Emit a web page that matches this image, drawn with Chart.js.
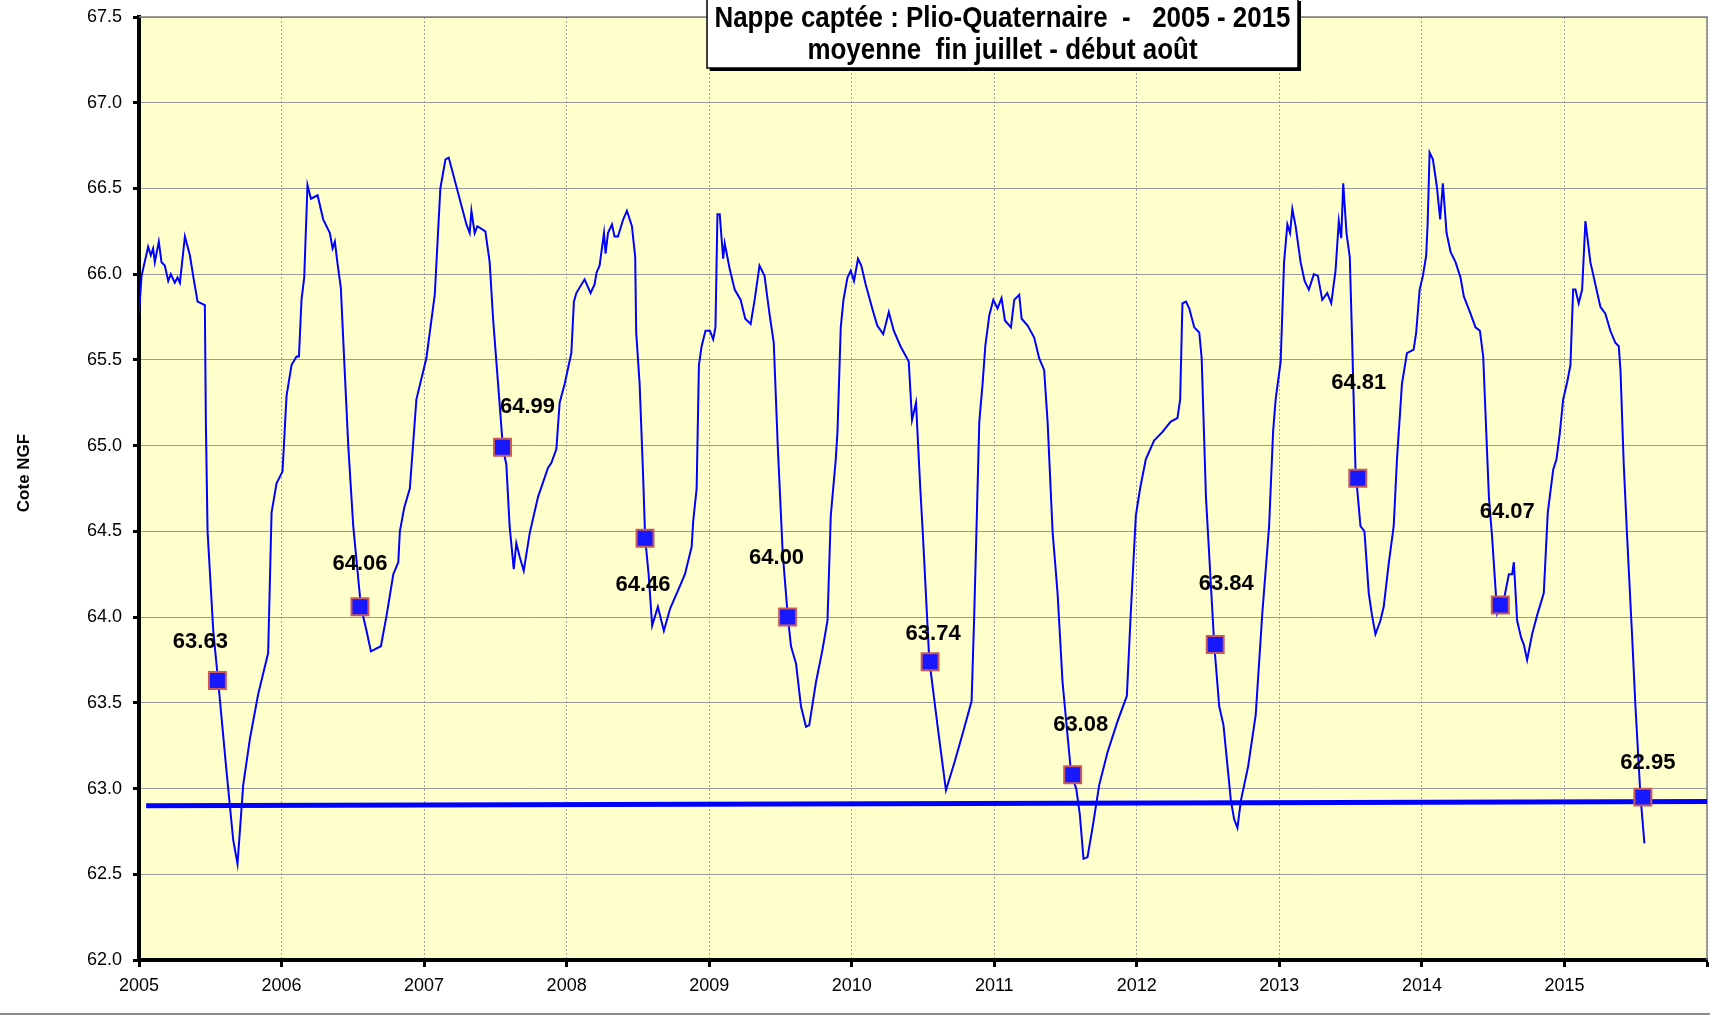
<!DOCTYPE html>
<html lang="fr">
<head>
<meta charset="utf-8">
<title>Nappe captée : Plio-Quaternaire 2005 - 2015</title>
<script src="https://cdn.jsdelivr.net/npm/chart.js@4.4.1/dist/chart.umd.min.js"></script>
<style>
    html, body { margin: 0; padding: 0; background: #ffffff; }
    #chart { display: block; }
</style>
</head>
<body>
<canvas id="chart" width="1710" height="1016"></canvas>
<script>
// niveau piézométrique (date en année décimale, cote NGF)
const levelDates = [
    2005.000, 2005.018, 2005.064, 2005.083, 2005.099, 2005.111, 2005.139, 2005.158, 2005.181, 2005.205,
    2005.223, 2005.251, 2005.270, 2005.287, 2005.322, 2005.357, 2005.380, 2005.411, 2005.462, 2005.469,
    2005.481, 2005.521, 2005.556, 2005.614, 2005.661, 2005.691, 2005.731, 2005.778, 2005.836, 2005.906,
    2005.930, 2005.965, 2006.007, 2006.035, 2006.070, 2006.105, 2006.122, 2006.140, 2006.159, 2006.182,
    2006.206, 2006.253, 2006.292, 2006.339, 2006.358, 2006.374, 2006.393, 2006.416, 2006.440, 2006.468,
    2006.503, 2006.557, 2006.596, 2006.627, 2006.697, 2006.737, 2006.784, 2006.819, 2006.830, 2006.861,
    2006.900, 2006.946, 2007.016, 2007.075, 2007.114, 2007.150, 2007.173, 2007.297, 2007.320, 2007.332,
    2007.355, 2007.374, 2007.430, 2007.460, 2007.484, 2007.519, 2007.554, 2007.577, 2007.600, 2007.629,
    2007.647, 2007.671, 2007.699, 2007.741, 2007.799, 2007.869, 2007.893, 2007.928, 2007.951, 2007.986,
    2008.033, 2008.051, 2008.068, 2008.126, 2008.168, 2008.196, 2008.210, 2008.231, 2008.262, 2008.273,
    2008.290, 2008.318, 2008.336, 2008.360, 2008.397, 2008.423, 2008.458, 2008.481, 2008.488, 2008.512,
    2008.535, 2008.551, 2008.575, 2008.600, 2008.640, 2008.682, 2008.726, 2008.784, 2008.830, 2008.877,
    2008.888, 2008.912, 2008.928, 2008.947, 2008.974, 2009.005, 2009.028, 2009.044, 2009.058, 2009.074,
    2009.098, 2009.109, 2009.144, 2009.179, 2009.221, 2009.253, 2009.291, 2009.319, 2009.353, 2009.388,
    2009.423, 2009.453, 2009.481, 2009.516, 2009.551, 2009.574, 2009.609, 2009.644, 2009.679, 2009.702,
    2009.749, 2009.795, 2009.830, 2009.853, 2009.888, 2009.900, 2009.923, 2009.942, 2009.970, 2009.993,
    2010.016, 2010.044, 2010.067, 2010.098, 2010.144, 2010.179, 2010.221, 2010.260, 2010.295, 2010.342,
    2010.400, 2010.423, 2010.451, 2010.481, 2010.498, 2010.544, 2010.603, 2010.661, 2010.720, 2010.778,
    2010.841, 2010.860, 2010.895, 2010.918, 2010.937, 2010.965, 2010.993, 2011.023, 2011.051, 2011.075,
    2011.117, 2011.140, 2011.175, 2011.192, 2011.234, 2011.280, 2011.315, 2011.350, 2011.374, 2011.409,
    2011.444, 2011.479, 2011.540, 2011.575, 2011.600, 2011.626, 2011.654, 2011.689, 2011.736, 2011.794,
    2011.864, 2011.930, 2011.958, 2011.993, 2012.023, 2012.063, 2012.121, 2012.180, 2012.238, 2012.285,
    2012.304, 2012.320, 2012.345, 2012.368, 2012.403, 2012.438, 2012.455, 2012.485, 2012.543, 2012.578,
    2012.608, 2012.660, 2012.683, 2012.706, 2012.730, 2012.781, 2012.834, 2012.881, 2012.928, 2012.956,
    2012.974, 2013.009, 2013.033, 2013.056, 2013.075, 2013.091, 2013.114, 2013.149, 2013.177, 2013.207,
    2013.242, 2013.270, 2013.301, 2013.336, 2013.364, 2013.394, 2013.417, 2013.434, 2013.448, 2013.471,
    2013.494, 2013.510, 2013.534, 2013.569, 2013.597, 2013.627, 2013.650, 2013.674, 2013.709, 2013.732,
    2013.767, 2013.802, 2013.825, 2013.860, 2013.895, 2013.942, 2013.960, 2013.984, 2014.007, 2014.030,
    2014.040, 2014.054, 2014.077, 2014.105, 2014.128, 2014.147, 2014.173, 2014.201, 2014.236, 2014.271,
    2014.294, 2014.341, 2014.376, 2014.407, 2014.430, 2014.446, 2014.470, 2014.493, 2014.528, 2014.575,
    2014.610, 2014.633, 2014.645, 2014.668, 2014.696, 2014.715, 2014.738, 2014.773, 2014.808, 2014.855,
    2014.883, 2014.921, 2014.944, 2014.967, 2014.991, 2015.019, 2015.042, 2015.061, 2015.077, 2015.100,
    2015.124, 2015.147, 2015.182, 2015.217, 2015.252, 2015.287, 2015.322, 2015.357, 2015.381, 2015.393,
    2015.416, 2015.439, 2015.474, 2015.498, 2015.533, 2015.561
];
const levelValues = [
    65.77, 65.99, 66.16, 66.11, 66.15, 66.07, 66.19, 66.07, 66.05, 65.96,
    66.00, 65.95, 65.98, 65.95, 66.22, 66.11, 65.99, 65.84, 65.82, 65.14,
    64.50, 63.92, 63.62, 63.10, 62.70, 62.56, 63.02, 63.29, 63.55, 63.79,
    64.61, 64.78, 64.85, 65.29, 65.47, 65.52, 65.52, 65.85, 65.98, 66.52,
    66.44, 66.46, 66.32, 66.24, 66.15, 66.19, 66.06, 65.92, 65.49, 65.00,
    64.53, 64.06, 63.92, 63.80, 63.83, 64.01, 64.25, 64.32, 64.50, 64.64,
    64.75, 65.27, 65.51, 65.88, 66.50, 66.67, 66.68, 66.29, 66.24, 66.37,
    66.24, 66.28, 66.25, 66.07, 65.74, 65.36, 64.98, 64.89, 64.53, 64.28,
    64.43, 64.35, 64.27, 64.49, 64.70, 64.87, 64.90, 64.98, 65.25, 65.36,
    65.54, 65.84, 65.89, 65.97, 65.89, 65.94, 66.01, 66.05, 66.24, 66.12,
    66.24, 66.29, 66.22, 66.22, 66.32, 66.37, 66.28, 66.10, 65.66, 65.36,
    64.86, 64.46, 64.25, 63.95, 64.06, 63.92, 64.05, 64.16, 64.25, 64.41,
    64.56, 64.75, 65.47, 65.58, 65.67, 65.67, 65.62, 65.69, 66.35, 66.35,
    66.09, 66.18, 66.03, 65.91, 65.85, 65.74, 65.71, 65.85, 66.05, 65.99,
    65.77, 65.60, 65.00, 64.37, 64.01, 63.83, 63.73, 63.48, 63.36, 63.37,
    63.62, 63.81, 63.98, 64.59, 64.92, 65.08, 65.69, 65.85, 65.98, 66.02,
    65.96, 66.09, 66.05, 65.94, 65.80, 65.70, 65.65, 65.78, 65.67, 65.58,
    65.49, 65.15, 65.25, 64.75, 64.50, 63.75, 63.36, 62.99, 63.15, 63.32,
    63.51, 64.03, 65.14, 65.36, 65.58, 65.76, 65.85, 65.80, 65.86, 65.73,
    65.69, 65.85, 65.88, 65.74, 65.70, 65.63, 65.51, 65.44, 65.14, 64.50,
    64.14, 63.62, 63.08, 63.00, 62.85, 62.59, 62.60, 62.77, 63.02, 63.21,
    63.39, 63.54, 64.03, 64.59, 64.75, 64.92, 65.03, 65.08, 65.14, 65.16,
    65.27, 65.83, 65.84, 65.80, 65.69, 65.66, 65.51, 64.70, 63.84, 63.48,
    63.37, 62.93, 62.82, 62.77, 62.93, 63.13, 63.43, 64.03, 64.53, 65.08,
    65.27, 65.49, 66.07, 66.29, 66.24, 66.38, 66.28, 66.07, 65.96, 65.91,
    66.00, 65.99, 65.85, 65.89, 65.83, 66.02, 66.31, 66.21, 66.53, 66.24,
    66.10, 65.63, 64.86, 64.53, 64.50, 64.14, 64.01, 63.90, 63.98, 64.06,
    64.31, 64.53, 64.92, 65.36, 65.54, 65.56, 65.66, 65.91, 65.99, 66.11,
    66.29, 66.71, 66.67, 66.51, 66.32, 66.53, 66.24, 66.13, 66.07, 65.98,
    65.87, 65.77, 65.69, 65.67, 65.52, 65.19, 64.70, 64.46, 64.02, 64.10,
    64.25, 64.25, 64.32, 63.98, 63.88, 63.84, 63.75, 63.90, 64.01, 64.14,
    64.61, 64.86, 64.92, 65.07, 65.27, 65.37, 65.47, 65.91, 65.91, 65.83,
    65.91, 66.31, 66.07, 65.94, 65.81, 65.77, 65.67, 65.60, 65.58, 65.44,
    64.89, 64.48, 63.90, 63.48, 62.96, 62.68
];

// moyenne fin juillet - début août
const markerYears = [2005, 2006, 2007, 2008, 2009, 2010, 2011, 2012, 2013, 2014, 2015];
const markerValues = [63.63, 64.06, 64.99, 64.46, 64.00, 63.74, 63.08, 63.84, 64.81, 64.07, 62.95];
const markerDateOffset = 0.55;

// tendance
const trendDates = [2005.05, 2016];
const trendValues = [62.90, 62.925];

// axes
const xTickYears = [2005, 2006, 2007, 2008, 2009, 2010, 2011, 2012, 2013, 2014, 2015];
const yTicks = [62.0, 62.5, 63.0, 63.5, 64.0, 64.5, 65.0, 65.5, 66.0, 66.5, 67.0, 67.5];

const titleLines = ["Nappe captée : Plio-Quaternaire  -   2005 - 2015", "moyenne  fin juillet - début août"];
const yAxisTitle = "Cote NGF";

const FONT = '"Liberation Sans", Arial, Helvetica, sans-serif';

var levelPoints = levelDates.map((d, i) => ({ x: d, y: levelValues[i] }));
var markerPoints = markerYears.map((y, i) => ({ x: y + markerDateOffset, y: markerValues[i] }));
var trendPoints = trendDates.map((d, i) => ({ x: d, y: trendValues[i] }));

// décalage des étiquettes par rapport au point (px)
const labelOffsets = [[-17, -39], [0, -43], [25, -40], [-2, 47], [-11, -59], [3, -28],
                      [8, -50], [11, -61], [1, -95], [7, -93], [5, -34]];

const decorPlugin = {
    id: 'decor',
    beforeDraw(chart) {
        const ctx = chart.ctx;
        const a = chart.chartArea;
        ctx.save();
        ctx.fillStyle = '#ffffff';
        ctx.fillRect(0, 0, chart.width, chart.height);
        ctx.fillStyle = '#ffffcc';
        ctx.fillRect(a.left, a.top, a.right - a.left, a.bottom - a.top);
        ctx.restore();
    },
    beforeDatasetsDraw(chart) {
        const ctx = chart.ctx;
        const a = chart.chartArea;
        ctx.save();
        ctx.strokeStyle = '#808080';
        ctx.lineWidth = 1.5;
        ctx.beginPath();
        ctx.moveTo(a.left, a.top);
        ctx.lineTo(a.right, a.top);
        ctx.lineTo(a.right, a.bottom);
        ctx.stroke();
        // cadre bas
        ctx.strokeStyle = '#8c8c8c';
        ctx.lineWidth = 2;
        ctx.beginPath();
        ctx.moveTo(0, 1014);
        ctx.lineTo(chart.width, 1014);
        ctx.stroke();
        ctx.restore();
    },
    afterDatasetsDraw(chart) {
        const ctx = chart.ctx;
        const meta = chart.getDatasetMeta(0);
        ctx.save();
        ctx.font = 'bold 22px ' + FONT;
        ctx.fillStyle = '#000000';
        ctx.textAlign = 'center';
        ctx.textBaseline = 'middle';
        meta.data.forEach((pt, i) => {
            const off = labelOffsets[i];
            ctx.fillText(markerValues[i].toFixed(2), pt.x + off[0], pt.y + off[1]);
        });
        ctx.restore();
    },
    afterDraw(chart) {
        const ctx = chart.ctx;
        ctx.save();
        // titre de l'axe Y
        ctx.translate(24, 473);
        ctx.rotate(-Math.PI / 2);
        ctx.font = 'bold 17px ' + FONT;
        ctx.fillStyle = '#000000';
        ctx.textAlign = 'center';
        ctx.textBaseline = 'middle';
        ctx.fillText(yAxisTitle, 0, 0);
        ctx.restore();

        // cartouche du titre
        const bx = 707, by = -2, bw = 591, bh = 70;
        ctx.save();
        ctx.fillStyle = '#000000';
        ctx.fillRect(bx + 3, by + 3, bw, bh);
        ctx.fillStyle = '#ffffff';
        ctx.fillRect(bx, by, bw, bh);
        ctx.strokeStyle = '#000000';
        ctx.lineWidth = 1.5;
        ctx.strokeRect(bx, by, bw, bh);
        ctx.font = 'bold 30px ' + FONT;
        ctx.fillStyle = '#000000';
        ctx.textAlign = 'center';
        ctx.textBaseline = 'middle';
        const targetWidth = 576;
        const squeeze = targetWidth / ctx.measureText(titleLines[0]).width;
        const cx = bx + bw / 2;
        ctx.translate(cx, 0);
        ctx.scale(squeeze, 1);
        ctx.fillText(titleLines[0], 0, 19);
        ctx.fillText(titleLines[1], 0, 51);
        ctx.restore();
    }
};

var ctx = document.getElementById('chart').getContext('2d');
new Chart(ctx, {
    type: 'line',
    data: {
        datasets: [
            {
                label: 'moyenne fin juillet - début août',
                data: markerPoints,
                showLine: false,
                pointStyle: 'rect',
                pointRadius: 12,
                pointHoverRadius: 12,
                pointBackgroundColor: '#1818ff',
                pointBorderColor: '#cc5a5a',
                pointBorderWidth: 2
            },
            {
                label: 'Cote NGF',
                data: levelPoints,
                borderColor: '#0000ff',
                borderWidth: 2,
                pointRadius: 0,
                tension: 0,
                fill: false
            },
            {
                label: 'tendance',
                data: trendPoints,
                borderColor: '#0000ff',
                borderWidth: 5,
                pointRadius: 0,
                tension: 0,
                fill: false
            }
        ]
    },
    options: {
        responsive: false,
        animation: false,
        events: [],
        layout: { autoPadding: false, padding: { left: 0, top: 17, right: 3, bottom: 0 } },
        plugins: {
            legend: { display: false },
            tooltip: { enabled: false },
            title: { display: false }
        },
        scales: {
            x: {
                type: 'linear',
                min: xTickYears[0],
                max: xTickYears[xTickYears.length - 1] + 1,
                afterBuildTicks: (scale) => {
                    scale.ticks = xTickYears.concat([xTickYears[xTickYears.length - 1] + 1]).map(v => ({ value: v }));
                },
                ticks: {
                    autoSkip: false,
                    maxRotation: 0,
                    padding: 8,
                    color: '#000000',
                    font: { family: FONT, size: 18 },
                    callback: (v) => xTickYears.indexOf(Math.round(v)) >= 0 ? String(Math.round(v)) : ''
                },
                grid: {
                    color: '#a0a0a0',
                    lineWidth: 1,
                    tickColor: '#000000',
                    tickLength: 7,
                    tickWidth: 3
                },
                border: { display: true, color: '#000000', width: 4, dash: [2, 2] },
                afterFit: (scale) => {
                    scale.height = 56;
                    scale.paddingLeft = 0;
                    scale.paddingRight = 0;
                }
            },
            y: {
                min: yTicks[0],
                max: yTicks[yTicks.length - 1],
                afterBuildTicks: (scale) => {
                    scale.ticks = yTicks.map(v => ({ value: v }));
                },
                ticks: {
                    padding: 11,
                    color: '#000000',
                    font: { family: FONT, size: 18 },
                    callback: (v) => Number(v).toFixed(1)
                },
                grid: {
                    color: '#9a9a9a',
                    lineWidth: 1,
                    tickColor: '#000000',
                    tickLength: 6,
                    tickWidth: 3
                },
                border: { display: true, color: '#000000', width: 4 },
                afterFit: (scale) => {
                    scale.width = 139;
                    scale.paddingTop = 0;
                    scale.paddingBottom = 0;
                }
            }
        }
    },
    plugins: [decorPlugin]
});
</script>
</body>
</html>
